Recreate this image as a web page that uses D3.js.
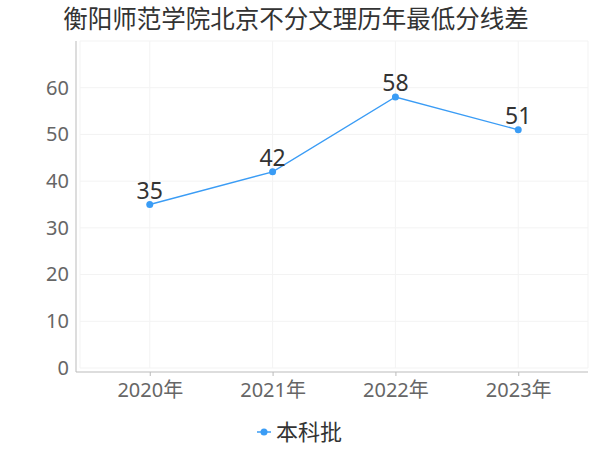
<!DOCTYPE html>
<html><head><meta charset="utf-8">
<script src="https://cdn.jsdelivr.net/npm/d3@7/dist/d3.min.js"></script>
<style>body{margin:0;background:#fff}svg{display:block;font-family:"Noto Sans","Noto Sans CJK SC",sans-serif}</style>
</head><body><svg id="c" width="600" height="450"></svg>
<script>
const title = "衡阳师范学院北京不分文理历年最低分线差";
const categories = ["2020年","2021年","2022年","2023年"];
const values = [35, 42, 58, 51];
const yTicks = [0,10,20,30,40,50,60];
const seriesName = "本科批";
const color = "#3a9cf5";

const svg = d3.select("#c");
const L = 80, R = 588, T = 41, B = 368;
const x = d3.scalePoint().domain(categories).range([L, R]).padding(0.568);
const y = d3.scaleLinear().domain([0, 70]).range([B, T]);

svg.append("text").attr("x", 296).attr("y", 28).attr("text-anchor","middle")
  .attr("font-size", 24.5).attr("fill", "#333").text(title);

// grid
const g = svg.append("g");
g.selectAll(".hg").data(yTicks.concat([70])).join("line")
  .attr("x1", L).attr("x2", R).attr("y1", d=>y(d)).attr("y2", d=>y(d))
  .attr("stroke", "#f3f3f3").attr("stroke-width", 1);
g.selectAll(".vg").data(categories).join("line")
  .attr("x1", d=>x(d)).attr("x2", d=>x(d)).attr("y1", T).attr("y2", B)
  .attr("stroke", "#f3f3f3").attr("stroke-width", 1);
g.append("line").attr("x1", L).attr("x2", L).attr("y1", T).attr("y2", B).attr("stroke","#f3f3f3");
g.append("line").attr("x1", R).attr("x2", R).attr("y1", T).attr("y2", B).attr("stroke","#f3f3f3");

// y axis
const ya = svg.append("g").attr("transform", "translate(76,0)")
  .call(d3.axisLeft(y).tickValues(yTicks).tickSize(0).tickPadding(7));
ya.select(".domain").attr("stroke", "#bbb").attr("d", `M0,${T}V${B+4}`);
ya.selectAll("text").attr("font-size", 20).attr("fill", "#666").attr("font-family", "'Noto Sans',sans-serif");

// x axis
const xa = svg.append("g").attr("transform", "translate(0,372)")
  .call(d3.axisBottom(x).tickSize(4).tickPadding(7));
xa.select(".domain").attr("stroke", "#bbb").attr("d", `M${L-4},0H${R}`);
xa.selectAll(".tick line").attr("stroke", "#bbb");
xa.selectAll("text").attr("font-size", 20).attr("fill", "#666").attr("font-family", "'Noto Sans','Noto Sans CJK SC',sans-serif");

// line
const data = categories.map((c,i)=>({c, v: values[i]}));
svg.append("path").datum(data)
  .attr("d", d3.line().x(d=>x(d.c)).y(d=>y(d.v)))
  .attr("fill","none").attr("stroke", color).attr("stroke-width", 1.3);
svg.selectAll(".pt").data(data).join("circle")
  .attr("cx", d=>x(d.c)).attr("cy", d=>y(d.v)).attr("r", 3.5).attr("fill", color);
svg.selectAll(".lb").data(data).join("text")
  .attr("x", d=>x(d.c)).attr("y", d=>y(d.v)-6).attr("text-anchor","middle")
  .attr("font-size", 23).attr("fill", "#333").text(d=>d.v);

// legend
const lg = svg.append("g").attr("transform", "translate(0,432)");
lg.append("line").attr("x1", 257).attr("x2", 271).attr("y1", 0).attr("y2", 0).attr("stroke", color).attr("stroke-width", 1.5);
lg.append("circle").attr("cx", 264).attr("cy", 0).attr("r", 3.5).attr("fill", color);
lg.append("text").attr("x", 276).attr("y", 8).attr("font-size", 22).attr("fill", "#333").text(seriesName);
</script></body></html>
